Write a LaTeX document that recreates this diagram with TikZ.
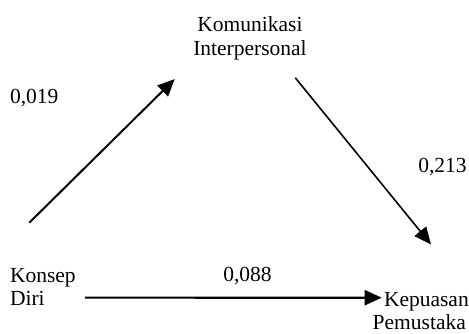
\documentclass[tikz,border=0pt]{standalone}
\usepackage{fontspec}
\setmainfont{Liberation Serif}
\usetikzlibrary{arrows.meta}
\begin{document}
\begin{tikzpicture}[x=1pt, y=-1pt, every node/.style={inner sep=0pt, outer sep=0pt, font=\fontsize{21.5}{23.3}\selectfont}, var node/.style={align=left}, arr/.style={line width=2pt, -{Triangle[length=17pt,width=15pt]}}]

            \useasboundingbox (0,0) rectangle (469,334);

            \node[var node, anchor=north, align=center] at (250, 17) (ki) {Komunikasi\\Interpersonal};
            \node[var node, anchor=north west] at (10, 268.5) (kd) {Konsep\\Diri};
            \node[anchor=base west] at (384, 306) (kp) {Kepuasan};
            \node[anchor=base west] at (372.7, 329) (kpb) {Pemustaka};

            \node[anchor=base west] at (10, 103.5) (l1) {0,019};
            \node[anchor=base west] at (418.3, 172.3) (l2) {0,213};
            \node[anchor=base west] at (223.3, 281.7) (l3) {0,088};

            \draw[arr] ([shift={(19.3,-45.8)}]kd.north west) -- ([shift={(-18.6,19.3)}]ki.south west);
            \draw[arr, line width=1.6pt] ([shift={(-11.4,18)}]ki.south east) -- ([shift={(4.6,-47.5)}]kp.north);
            \draw[arr, line width=2.2pt] ([shift={(9.3,-8.3)}]kd.south east) -- ([shift={(-2.3,-8.3)}]kp.base west);
        \end{tikzpicture}
\end{document}
